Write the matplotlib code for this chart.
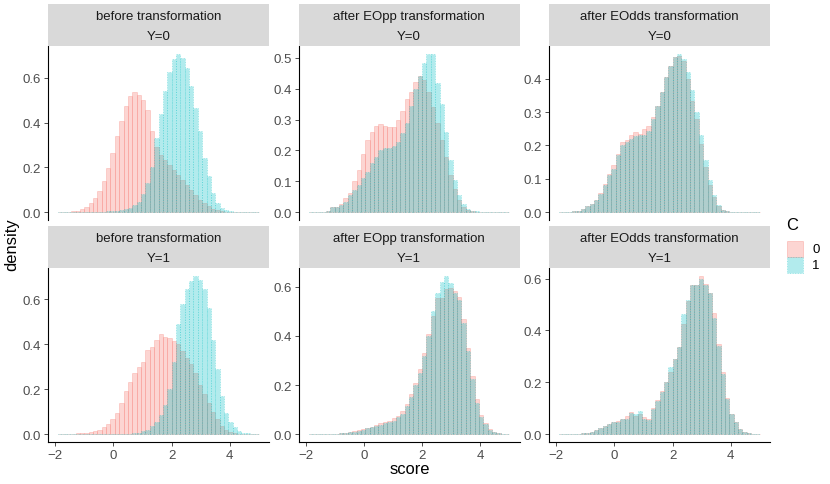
import numpy as np
import matplotlib
matplotlib.use("Agg")
import matplotlib.pyplot as plt
import matplotlib.patches as mpatches
from matplotlib.ticker import MaxNLocator, FormatStrFormatter

plt.rcParams['font.family'] = ['Liberation Sans', 'DejaVu Sans']

# ---------------- data ----------------
bin_edges = np.linspace(-1.9, 5.0, 47)          # 46 bins of width 0.15
x_ticks = [-2, 0, 2, 4]
transforms = ["before transformation", "after EOpp transformation", "after EOdds transformation"]
y_groups = ["Y=0", "Y=1"]
groups = ["0", "1"]

# before transformation, Y=0
before_y0_c0 = [0.0005, 0.001, 0.002, 0.003, 0.006, 0.012, 0.022, 0.04, 0.065, 0.095,
                0.137, 0.197, 0.264, 0.342, 0.406, 0.473, 0.518, 0.537, 0.525, 0.50,
                0.458, 0.361, 0.29, 0.257, 0.234, 0.21, 0.19, 0.167, 0.145, 0.122,
                0.10, 0.078, 0.055, 0.04, 0.025, 0.015, 0.008, 0.004, 0.002, 0.001,
                0.0005, 0.0005, 0.0, 0.0, 0.0, 0.0]
before_y0_c1 = [0.0, 0.0, 0.0, 0.0005, 0.0005, 0.0005, 0.0005, 0.001, 0.001, 0.001,
                0.002, 0.003, 0.004, 0.006, 0.009, 0.013, 0.02, 0.03, 0.047, 0.08,
                0.13, 0.2, 0.33, 0.44, 0.54, 0.625, 0.685, 0.707, 0.69, 0.645,
                0.563, 0.466, 0.361, 0.242, 0.16, 0.085, 0.04, 0.018, 0.008, 0.004,
                0.002, 0.001, 0.0005, 0.0005, 0.0, 0.0]
# after EOpp, Y=0
eopp_y0_c0 = [0.001, 0.001, 0.001, 0.001, 0.002, 0.018, 0.018, 0.025, 0.047, 0.062,
              0.10, 0.135, 0.19, 0.234, 0.26, 0.28, 0.285, 0.28, 0.277, 0.277,
              0.298, 0.327, 0.368, 0.39, 0.422, 0.44, 0.427, 0.39, 0.34, 0.29,
              0.235, 0.18, 0.12, 0.075, 0.04, 0.018, 0.007, 0.003, 0.001, 0.0005,
              0.0005, 0.0005, 0.0005, 0.0005, 0.0005, 0.0005]
eopp_y0_c1 = [0.001, 0.001, 0.001, 0.001, 0.002, 0.018, 0.018, 0.024, 0.034, 0.056,
              0.072, 0.088, 0.11, 0.13, 0.158, 0.178, 0.20, 0.207, 0.207, 0.215,
              0.228, 0.255, 0.29, 0.344, 0.40, 0.44, 0.484, 0.513, 0.513, 0.42,
              0.35, 0.26, 0.17, 0.104, 0.056, 0.026, 0.01, 0.004, 0.002, 0.0005,
              0.0005, 0.0005, 0.0005, 0.0005, 0.0005, 0.0005]
# after EOdds, Y=0
eodds_y0_c0 = [0.001, 0.001, 0.001, 0.002, 0.004, 0.008, 0.017, 0.023, 0.037, 0.058,
               0.085, 0.115, 0.14, 0.175, 0.21, 0.215, 0.23, 0.24, 0.235, 0.25,
               0.26, 0.285, 0.32, 0.36, 0.405, 0.44, 0.465, 0.47, 0.455, 0.40,
               0.335, 0.28, 0.205, 0.135, 0.08, 0.045, 0.018, 0.006, 0.003, 0.001,
               0.0005, 0.0005, 0.0005, 0.0005, 0.0005, 0.0005]
eodds_y0_c1 = [0.001, 0.001, 0.001, 0.002, 0.004, 0.008, 0.017, 0.023, 0.037, 0.055,
               0.08, 0.11, 0.13, 0.17, 0.20, 0.21, 0.22, 0.228, 0.23, 0.23,
               0.245, 0.28, 0.32, 0.36, 0.405, 0.44, 0.465, 0.475, 0.46, 0.42,
               0.367, 0.30, 0.23, 0.155, 0.095, 0.05, 0.02, 0.007, 0.003, 0.001,
               0.0005, 0.0005, 0.0005, 0.0005, 0.0005, 0.0005]
# before transformation, Y=1
before_y1_c0 = [0.0003, 0.0005, 0.001, 0.002, 0.003, 0.004, 0.006, 0.009, 0.013, 0.02,
                0.03, 0.045, 0.065, 0.095, 0.14, 0.19, 0.23, 0.27, 0.30, 0.32,
                0.375, 0.385, 0.42, 0.445, 0.43, 0.428, 0.415, 0.40, 0.37, 0.34,
                0.31, 0.27, 0.22, 0.18, 0.14, 0.10, 0.065, 0.038, 0.02, 0.01,
                0.005, 0.002, 0.001, 0.0005, 0.0005, 0.0005]
before_y1_c1 = [0.0, 0.0, 0.0, 0.0, 0.0, 0.0, 0.0, 0.0005, 0.0005, 0.0005,
                0.0005, 0.0005, 0.0005, 0.0005, 0.001, 0.001, 0.002, 0.004, 0.007, 0.012,
                0.02, 0.035, 0.055, 0.085, 0.13, 0.20, 0.32, 0.49, 0.58, 0.645,
                0.68, 0.703, 0.685, 0.645, 0.56, 0.42, 0.29, 0.17, 0.093, 0.052,
                0.03, 0.015, 0.007, 0.003, 0.001, 0.0005]
# after EOpp, Y=1
eopp_y1_c0 = [0.0005, 0.0005, 0.0005, 0.0005, 0.001, 0.0015, 0.002, 0.003, 0.005, 0.008,
              0.011, 0.015, 0.02, 0.025, 0.03, 0.038, 0.045, 0.05, 0.054, 0.064,
              0.073, 0.095, 0.122, 0.162, 0.208, 0.264, 0.33, 0.41, 0.48, 0.555,
              0.555, 0.59, 0.595, 0.585, 0.56, 0.47, 0.352, 0.235, 0.142, 0.077,
              0.047, 0.02, 0.01, 0.004, 0.002, 0.001]
eopp_y1_c1 = [0.0005, 0.0005, 0.0005, 0.0005, 0.001, 0.001, 0.002, 0.003, 0.004, 0.007,
              0.01, 0.013, 0.018, 0.023, 0.027, 0.034, 0.038, 0.045, 0.05, 0.054,
              0.068, 0.081, 0.115, 0.15, 0.20, 0.25, 0.32, 0.40, 0.50, 0.575,
              0.62, 0.645, 0.615, 0.575, 0.545, 0.455, 0.34, 0.226, 0.126, 0.068,
              0.04, 0.018, 0.008, 0.003, 0.001, 0.0005]
# after EOdds, Y=1
eodds_y1_c0 = [0.0005, 0.0005, 0.001, 0.001, 0.002, 0.003, 0.004, 0.009, 0.015, 0.022,
               0.032, 0.039, 0.045, 0.05, 0.058, 0.07, 0.086, 0.07, 0.077, 0.064,
               0.057, 0.10, 0.13, 0.165, 0.20, 0.238, 0.29, 0.334, 0.424, 0.514,
               0.575, 0.575, 0.61, 0.58, 0.546, 0.467, 0.347, 0.238, 0.141, 0.077,
               0.045, 0.019, 0.009, 0.004, 0.002, 0.001]
eodds_y1_c1 = [0.0005, 0.0005, 0.001, 0.001, 0.002, 0.003, 0.004, 0.009, 0.015, 0.022,
               0.032, 0.039, 0.045, 0.048, 0.058, 0.06, 0.081, 0.077, 0.089, 0.06,
               0.055, 0.096, 0.128, 0.163, 0.20, 0.257, 0.29, 0.337, 0.463, 0.518,
               0.575, 0.575, 0.60, 0.575, 0.546, 0.446, 0.338, 0.231, 0.135, 0.077,
               0.045, 0.019, 0.009, 0.004, 0.002, 0.001]

panel_data = [
    [(before_y0_c0, before_y0_c1), (eopp_y0_c0, eopp_y0_c1), (eodds_y0_c0, eodds_y0_c1)],
    [(before_y1_c0, before_y1_c1), (eopp_y1_c0, eopp_y1_c1), (eodds_y1_c0, eodds_y1_c1)],
]

# ---------------- style ----------------
PINK = "#F8766D"
CYAN = "#00BFC4"
STRIP = "#D9D9D9"
SMALL = 9.5
BIG = 11.9
W, H = 830, 485
fig = plt.figure(figsize=(W / 100, H / 100), dpi=100)


def frac(l, t, w, h):
    return [l / W, 1 - (t + h) / H, w / W, h / H]


col_left = [48, 298.5, 549]
PW, PH = 221, 174
panel_top = [47, 269]
strip_top = [5, 227]
STRIP_H = 42

centers = (bin_edges[:-1] + bin_edges[1:]) / 2
bw = bin_edges[1] - bin_edges[0]
xr = bin_edges[-1] - bin_edges[0]
xlim = (bin_edges[0] - 0.05 * xr, bin_edges[-1] + 0.05 * xr)

for r in range(2):
    for c in range(3):
        c0, c1 = panel_data[r][c]
        ax = fig.add_axes(frac(col_left[c], panel_top[r], PW, PH))
        ax.bar(centers, c0, width=bw, color=PINK, alpha=0.3, edgecolor=PINK,
               linewidth=0.6, linestyle="-")
        ax.bar(centers, c1, width=bw, color=CYAN, alpha=0.3, edgecolor=CYAN,
               linewidth=0.7, linestyle=":")
        m = max(max(c0), max(c1))
        ax.set_ylim(-0.05 * m, 1.05 * m)
        ax.set_xlim(*xlim)
        ax.yaxis.set_major_locator(MaxNLocator(nbins=6, steps=[1, 2, 5, 10]))
        ax.yaxis.set_major_formatter(FormatStrFormatter("%.1f"))
        for s in ["top", "right"]:
            ax.spines[s].set_visible(False)
        ax.spines["left"].set_linewidth(0.8)
        ax.spines["left"].set_color("black")
        ax.tick_params(axis="y", length=2.75, width=0.6, color="#333333",
                       labelsize=SMALL, labelcolor="#4D4D4D", pad=2.2)
        ax.set_xticks(x_ticks)
        if r == 1:
            ax.spines["bottom"].set_linewidth(0.8)
            ax.spines["bottom"].set_color("black")
            ax.tick_params(axis="x", length=2.75, width=0.6, color="#333333",
                           labelsize=SMALL, labelcolor="#4D4D4D", pad=2.2)
        else:
            ax.spines["bottom"].set_visible(False)
            ax.tick_params(axis="x", bottom=False, labelbottom=False)
        ax.patch.set_alpha(0)

        sax = fig.add_axes(frac(col_left[c], strip_top[r], PW, STRIP_H))
        sax.set_facecolor(STRIP)
        sax.set_xticks([])
        sax.set_yticks([])
        for s in sax.spines.values():
            s.set_visible(False)
        sax.text(0.5, 0.72, transforms[c], ha="center", va="center",
                 fontsize=SMALL, color="#1A1A1A", transform=sax.transAxes)
        sax.text(0.5, 0.245, y_groups[r], ha="center", va="center",
                 fontsize=SMALL, color="#1A1A1A", transform=sax.transAxes)

# axis titles
fig.text(409.5 / W, 1 - 470 / H, "score", ha="center", va="center", fontsize=BIG)
fig.text(12 / W, 1 - 245 / H, "density", ha="center", va="center",
         rotation=90, fontsize=BIG)

# legend (drawn by hand to match ggplot key sizes)
fig.text(786.5 / W, 1 - 225 / H, "C", ha="left", va="center", fontsize=BIG)
key_cols = [PINK, CYAN]
key_ls = ["-", ":"]
for i, g in enumerate(groups):
    top = 241.5 + 16.3 * i
    fig.add_artist(mpatches.Rectangle((787 / W, 1 - (top + 16.3) / H), 16.3 / W, 16.3 / H,
                                      transform=fig.transFigure, facecolor=key_cols[i],
                                      edgecolor=key_cols[i], alpha=0.3, linewidth=0.7,
                                      linestyle=key_ls[i]))
    fig.text(812 / W, 1 - (top + 8.2) / H, g, ha="left", va="center", fontsize=SMALL)

fig.savefig("out.png", dpi=100)
